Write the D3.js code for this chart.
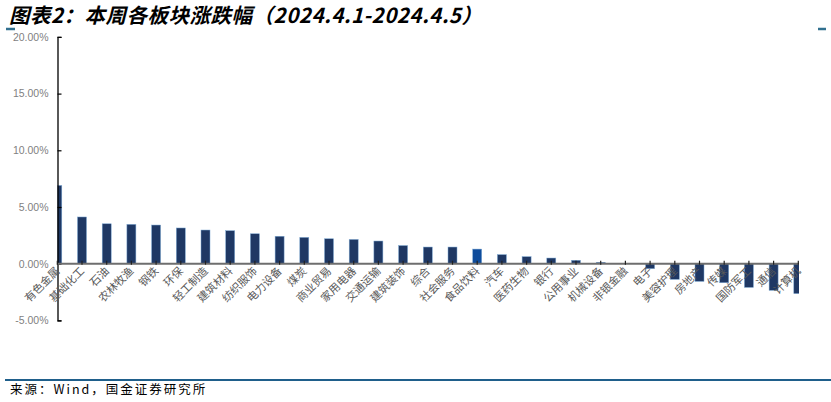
<!DOCTYPE html>
<html>
<head>
<meta charset="utf-8">
<script src="https://cdn.jsdelivr.net/npm/d3@7"></script>
<style>
  body { margin: 0; background: #fff; }
  svg { display: block; }
</style>
</head>
<body>
<div id="chart"></div>
<script>
//sector names in the order shown on the x axis
var sectors = ["有色金属", "基础化工", "石油", "农林牧渔", "钢铁", "环保", "轻工制造", "建筑材料",
  "纺织服饰", "电力设备", "煤炭", "商业贸易", "家用电器", "交通运输", "建筑装饰", "综合",
  "社会服务", "食品饮料", "汽车", "医药生物", "银行", "公用事业", "机械设备", "非银金融",
  "电子", "美容护理", "房地产", "传媒", "国防军工", "通信", "计算机"];

//weekly change in %
var changes = [6.9, 4.12, 3.52, 3.47, 3.41, 3.15, 2.97, 2.91,
  2.64, 2.42, 2.32, 2.2, 2.14, 2.0, 1.6, 1.47,
  1.47, 1.29, 0.8, 0.62, 0.5, 0.3, 0.12, 0.02,
  -0.44, -1.38, -1.56, -1.68, -2.09, -2.35, -2.64];

//the one bar drawn in a lighter blue
var highlighted = ["食品饮料"];

var yTicks = [-5, 0, 5, 10, 15, 20];

var width = 831, height = 402;
var plot = {left: 57.5, right: 799, top: 36.9, bottom: 320.4};
var barColor = "#1f3864";
var highlightColor = "#0f4c9c";

var svg = d3.select("#chart")
  .append("svg")
  .attr("width", width)
  .attr("height", height);

//title and the little decoration marks
svg.append("text")
  .attr("x", 9)
  .attr("y", 23)
  .attr("font-family", "Noto Sans CJK SC")
  .attr("font-size", "20.5px")
  .attr("font-weight", "bold")
  .attr("font-style", "italic")
  .attr("letter-spacing", "0.5px")
  .attr("fill", "#000")
  .text("图表2：本周各板块涨跌幅（2024.4.1-2024.4.5）");

svg.append("line").attr("x1", 6).attr("x2", 15).attr("y1", 29).attr("y2", 29)
  .attr("stroke", "#31708f").attr("stroke-width", 2.5);
svg.append("line").attr("x1", 818).attr("x2", 826).attr("y1", 29).attr("y2", 29)
  .attr("stroke", "#31708f").attr("stroke-width", 2.5);

//scales
var x = d3.scalePoint()
  .domain(sectors)
  .range([57.3, 798.3])
  .padding(0);

var y = d3.scaleLinear()
  .domain([-5, 20])
  .range([plot.bottom, plot.top]);

//bars clipped to the plot area (first and last bars are cut in half)
svg.append("clipPath")
  .attr("id", "plotclip")
  .append("rect")
  .attr("x", plot.left)
  .attr("y", 0)
  .attr("width", plot.right - plot.left)
  .attr("height", height);

var barW = 9;
svg.append("g")
  .attr("clip-path", "url(#plotclip)")
  .selectAll("rect")
  .data(sectors)
  .enter()
  .append("rect")
    .attr("x", function(d) { return x(d) - barW / 2; })
    .attr("y", function(d, i) { return y(Math.max(0, changes[i])); })
    .attr("width", barW)
    .attr("height", function(d, i) { return Math.abs(y(changes[i]) - y(0)); })
    .attr("fill", function(d) { return highlighted.indexOf(d) >= 0 ? highlightColor : barColor; })
    .attr("stroke", "#7ea9d4")
    .attr("stroke-width", 0.5);

//y axis
var yAxis = d3.axisLeft(y)
  .tickValues(yTicks)
  .tickSize(-4)
  .tickPadding(9)
  .tickFormat(function(d) { return d.toFixed(2) + "%"; });

var yg = svg.append("g")
  .attr("transform", "translate(" + plot.left + ",0)")
  .call(yAxis);
yg.select(".domain").attr("stroke", "#000").attr("stroke-width", 1.3);
yg.selectAll(".tick line").attr("stroke", "#000").attr("stroke-width", 1.2);
yg.selectAll(".tick text")
  .attr("font-family", "Liberation Sans, Arial")
  .attr("font-size", "10.5px")
  .attr("fill", "#7f7f7f");

//zero line with category ticks
svg.append("line")
  .attr("x1", plot.left).attr("x2", plot.right)
  .attr("y1", y(0)).attr("y2", y(0))
  .attr("stroke", "#6e6e6e")
  .attr("stroke-width", 2);

svg.append("g")
  .selectAll("line")
  .data(sectors)
  .enter()
  .append("line")
    .attr("x1", function(d) { return x(d); })
    .attr("x2", function(d) { return x(d); })
    .attr("y1", y(0) - 3)
    .attr("y2", y(0) + 1)
    .attr("stroke", "#222")
    .attr("stroke-width", 1.2);

//rotated category labels
svg.append("g")
  .selectAll("text")
  .data(sectors)
  .enter()
  .append("text")
    .attr("transform", function(d) { return "translate(" + (x(d) + 3) + "," + (y(0) + 8) + ") rotate(-45)"; })
    .attr("text-anchor", "end")
    .attr("font-family", "Noto Sans CJK SC")
    .attr("font-size", "11px")
    .attr("fill", "#595959")
    .text(function(d) { return d; });

//footer
svg.append("line")
  .attr("x1", 5).attr("x2", 831)
  .attr("y1", 380).attr("y2", 380)
  .attr("stroke", "#1f5f8b")
  .attr("stroke-width", 2);

svg.append("text")
  .attr("x", 10)
  .attr("y", 394)
  .attr("font-family", "Noto Sans CJK SC")
  .attr("font-size", "12.5px")
  .attr("letter-spacing", "2px")
  .attr("fill", "#000")
  .text("来源：Wind，国金证券研究所");
</script>
</body>
</html>
